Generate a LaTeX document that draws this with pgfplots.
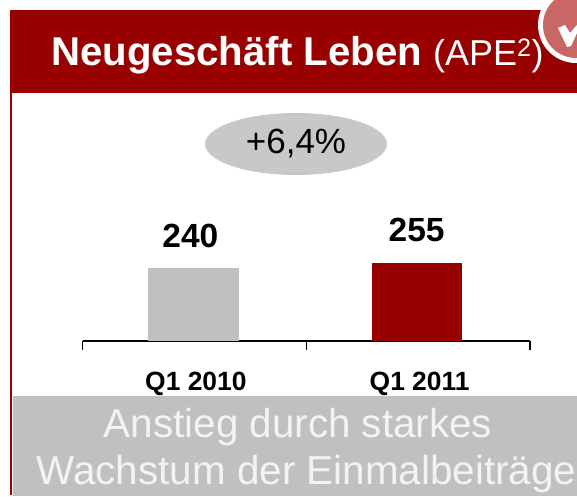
\documentclass[border=0pt]{standalone}
\usepackage{pgfplots}
\pgfplotsset{compat=1.18}
\usepackage{fontspec}
\setmainfont{Liberation Sans}
\definecolor{darkred}{RGB}{153,0,0}
\definecolor{barg}{RGB}{192,192,192}
\definecolor{ell}{RGB}{200,200,200}
\definecolor{pinkc}{RGB}{201,102,102}
\definecolor{offw}{RGB}{243,243,243}
\begin{document}
\begin{tikzpicture}[x=1pt,y=1pt]
\path[use as bounding box] (0,0) rectangle (577,496);
\begin{scope}
\clip (0,0) rectangle (577,496);
% header
\fill[darkred] (10,403) rectangle (577,486);
\fill[darkred] (10,1) rectangle (12.3,403);
\fill[white] (576,471) circle (38);
\fill[pinkc] (576,471) circle (33);
\fill[white] (558,468) -- (565,471) -- (570,463) -- (577,471) -- (577,463) -- (571,450) -- (567,449) -- cycle;
\node[anchor=base west,text=white,inner sep=0] at (51,430) {\fontsize{40.2}{40}\selectfont\bfseries Neugeschäft Leben\hspace{11pt}\fontsize{36}{36}\selectfont\mdseries (APE\textsuperscript{2})};
% ellipse
\fill[ell] (296,352) ellipse (91 and 31);
\node[font=\fontsize{35}{35}\selectfont] at (296,352) {+6,4\%};
% bottom box
\fill[barg] (12.5,0) rectangle (577,100);
\node[anchor=base,text=offw,inner sep=0,font=\fontsize{40.4}{40}\selectfont] at (298,59) {Anstieg durch starkes};
\node[anchor=base,text=offw,inner sep=0,font=\fontsize{40.4}{40}\selectfont] at (306.5,12) {Wachstum der Einmalbeiträge};
\end{scope}
\begin{axis}[
  at={(82.5pt,155pt)},anchor=south west,
  scale only axis,width=447.5pt,height=120pt,
  xmin=-0.5,xmax=1.5,ymin=0,ymax=392,
  axis y line=none,axis x line*=bottom,
  axis line style={black,line width=1.2pt,-},
  xtick={0,1},xticklabels={Q1 2010,Q1 2011},
  minor xtick={-0.5,0.5,1.5},
  major tick length=0pt,minor tick length=9pt,
  tick align=outside,
  minor tick style={black,line width=1.2pt},
  xticklabel style={font=\fontsize{26.4}{26}\selectfont\bfseries,anchor=center,yshift=-43pt,xshift=1.5pt},
  ybar,bar width=90.5pt,bar shift=-1pt,
  clip=false,
  nodes near coords,
  every node near coord/.append style={font=\fontsize{33.5}{33}\selectfont\bfseries},
  /pgf/number format/assume math mode=true,
]
\addplot[fill=barg,draw=none,every node near coord/.append style={yshift=16pt,xshift=-3pt}] coordinates {(0,240)};
\addplot[fill=darkred,draw=none,every node near coord/.append style={yshift=18pt,xshift=-0.5pt}] coordinates {(1,255)};
\end{axis}
\end{tikzpicture}
\end{document}
